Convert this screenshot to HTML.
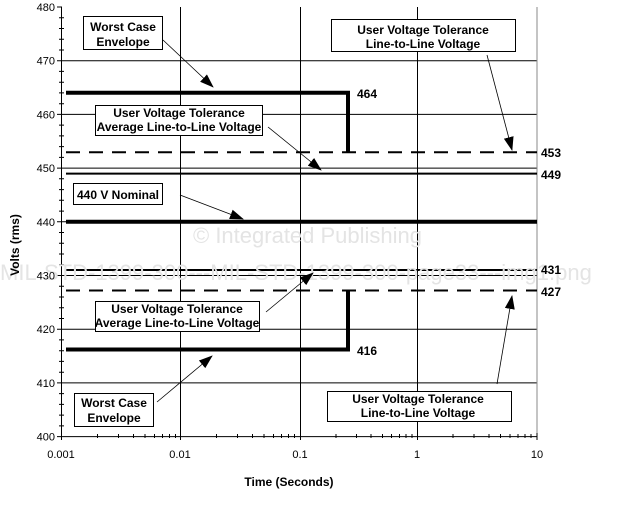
<!DOCTYPE html>
<html><head><meta charset="utf-8"><style>
html,body{margin:0;padding:0;background:#fff;width:625px;height:505px;overflow:hidden}
svg{display:block;font-family:"Liberation Sans",Arial,sans-serif}
.t{font-size:11px;fill:#000}
.b{font-size:12px;font-weight:bold;fill:#000}
.bx{fill:#fff;stroke:#000;stroke-width:1}
</style></head><body>
<svg width="625" height="505" viewBox="0 0 625 505" xmlns="http://www.w3.org/2000/svg">
<defs><marker id="a" markerWidth="14" markerHeight="10" refX="13" refY="5" orient="auto" markerUnits="userSpaceOnUse"><path d="M0,0 L14,5 L0,10 z" fill="#000"/></marker></defs>
<g stroke="#000" stroke-width="1">
<line x1="61" y1="60.7" x2="537" y2="60.7"/><line x1="61" y1="114.4" x2="537" y2="114.4"/>
<line x1="61" y1="168.1" x2="537" y2="168.1"/><line x1="61" y1="221.8" x2="537" y2="221.8"/>
<line x1="61" y1="275.5" x2="537" y2="275.5"/><line x1="61" y1="329.2" x2="537" y2="329.2"/>
<line x1="61" y1="382.9" x2="537" y2="382.9"/>
<line x1="180.5" y1="7" x2="180.5" y2="436.6"/><line x1="300.5" y1="7" x2="300.5" y2="436.6"/><line x1="417.5" y1="7" x2="417.5" y2="436.6"/>
</g>
<line x1="537" y1="7" x2="537" y2="436.6" stroke="#888"/>
<line x1="61.5" y1="7" x2="61.5" y2="437" stroke="#000"/>
<line x1="61" y1="436.6" x2="537" y2="436.6" stroke="#000"/>
<g stroke="#000">
<path d="M57 7h5M57 60.7h5M57 114.4h5M57 168.1h5M57 221.8h5M57 275.5h5M57 329.2h5M57 382.9h5M57 436.6h5"/>
<path d="M59 17.7h5M59 28.5h5M59 39.2h5M59 50h5M59 71.4h5M59 82.2h5M59 92.9h5M59 103.7h5M59 125.1h5M59 135.9h5M59 146.6h5M59 157.4h5M59 178.8h5M59 189.6h5M59 200.3h5M59 211.1h5M59 232.5h5M59 243.3h5M59 254h5M59 264.8h5M59 286.2h5M59 297h5M59 307.7h5M59 318.5h5M59 339.9h5M59 350.7h5M59 361.4h5M59 372.2h5M59 393.6h5M59 404.4h5M59 415.1h5M59 425.9h5"/>
<path d="M61.5 433v7M180.5 433v7M300.5 433v7M417.5 433v7M537 433v7"/>
<path d="M97.5 434v4M118.5 434v4M133.5 434v4M145 434v4M154.5 434v4M162.5 434v4M169.5 434v4M175.5 434v4M216.5 434v4M237.5 434v4M252.5 434v4M264 434v4M273.5 434v4M281.5 434v4M288.5 434v4M294.5 434v4M336 434v4M356.5 434v4M371 434v4M382.5 434v4M391.5 434v4M399.5 434v4M406 434v4M412 434v4M453 434v4M474 434v4M489 434v4M500.5 434v4M510 434v4M518 434v4M525 434v4M531 434v4"/>
</g>
<g fill="none" stroke="#000">
<path d="M66 92.8H348V152.3" stroke-width="4"/>
<line x1="66" y1="152.3" x2="537" y2="152.3" stroke-width="2" stroke-dasharray="14,9"/>
<line x1="66" y1="173.6" x2="537" y2="173.6" stroke-width="2"/>
<line x1="66" y1="221.8" x2="537" y2="221.8" stroke-width="4"/>
<line x1="66" y1="270" x2="537" y2="270" stroke-width="2"/>
<line x1="66" y1="290.5" x2="537" y2="290.5" stroke-width="2" stroke-dasharray="14,9"/>
<path d="M66 349.5H348V290.5" stroke-width="4"/>
</g>
<g fill="#e4e4e4" font-size="22">
<text x="193" y="243">© Integrated Publishing</text>
<text x="0" y="280">MIL-STD-1399-300---MIL-STD-1399-300-page33---img1.png</text>
</g>
<g class="t" text-anchor="end">
<text x="55" y="11">480</text><text x="55" y="64.7">470</text><text x="55" y="118.4">460</text><text x="55" y="172.1">450</text><text x="55" y="225.8">440</text><text x="55" y="279.5">430</text><text x="55" y="333.2">420</text><text x="55" y="386.9">410</text><text x="55" y="440.6">400</text>
</g>
<g class="t" text-anchor="middle">
<text x="61" y="458">0.001</text><text x="180" y="458">0.01</text><text x="300" y="458">0.1</text><text x="417" y="458">1</text><text x="537" y="458">10</text>
</g>
<text class="b" font-size="11" x="289" y="486" text-anchor="middle">Time (Seconds)</text>
<text class="b" font-size="11" transform="translate(19,245) rotate(-90)" text-anchor="middle">Volts (rms)</text>
<g class="b">
<text x="357" y="98">464</text><text x="541" y="157">453</text><text x="541" y="179">449</text>
<text x="541" y="274">431</text><text x="541" y="296">427</text><text x="357" y="355">416</text>
</g>
<g stroke="#000" stroke-width="0.8" marker-end="url(#a)">
<line x1="163" y1="40" x2="213" y2="87"/>
<line x1="268" y1="127" x2="321" y2="170"/>
<line x1="180" y1="195" x2="243" y2="219"/>
<line x1="487" y1="55" x2="512" y2="150"/>
<line x1="266" y1="312" x2="313" y2="273"/>
<line x1="157" y1="402" x2="212" y2="356"/>
<line x1="497" y1="384" x2="512" y2="296"/>
</g>
<rect class="bx" x="83.5" y="16.5" width="79" height="33"/>
<text class="b" x="123" y="31" text-anchor="middle">Worst Case</text><text class="b" x="123" y="46" text-anchor="middle">Envelope</text>
<rect class="bx" x="331.5" y="19.5" width="184" height="32"/>
<text class="b" x="423" y="34" text-anchor="middle" font-size="11">User Voltage Tolerance</text><text class="b" x="423" y="48" text-anchor="middle" font-size="11">Line-to-Line Voltage</text>
<rect class="bx" x="95.5" y="105.5" width="167" height="30"/>
<text class="b" x="179" y="117" text-anchor="middle" font-size="11">User Voltage Tolerance</text><text class="b" x="179" y="131" text-anchor="middle" font-size="11">Average Line-to-Line Voltage</text>
<rect class="bx" x="73.5" y="183.5" width="89" height="21"/>
<text class="b" x="118" y="199" text-anchor="middle">440 V Nominal</text>
<rect class="bx" x="95.5" y="301.5" width="164" height="30"/>
<text class="b" x="177" y="313" text-anchor="middle" font-size="11">User Voltage Tolerance</text><text class="b" x="177" y="327" text-anchor="middle" font-size="11">Average Line-to-Line Voltage</text>
<rect class="bx" x="74.5" y="393.5" width="79" height="33"/>
<text class="b" x="114" y="407" text-anchor="middle">Worst Case</text><text class="b" x="114" y="422" text-anchor="middle">Envelope</text>
<rect class="bx" x="327.5" y="391.5" width="184" height="30"/>
<text class="b" x="418" y="403" text-anchor="middle" font-size="11">User Voltage Tolerance</text><text class="b" x="418" y="417" text-anchor="middle" font-size="11">Line-to-Line Voltage</text>
</svg>
</body></html>
